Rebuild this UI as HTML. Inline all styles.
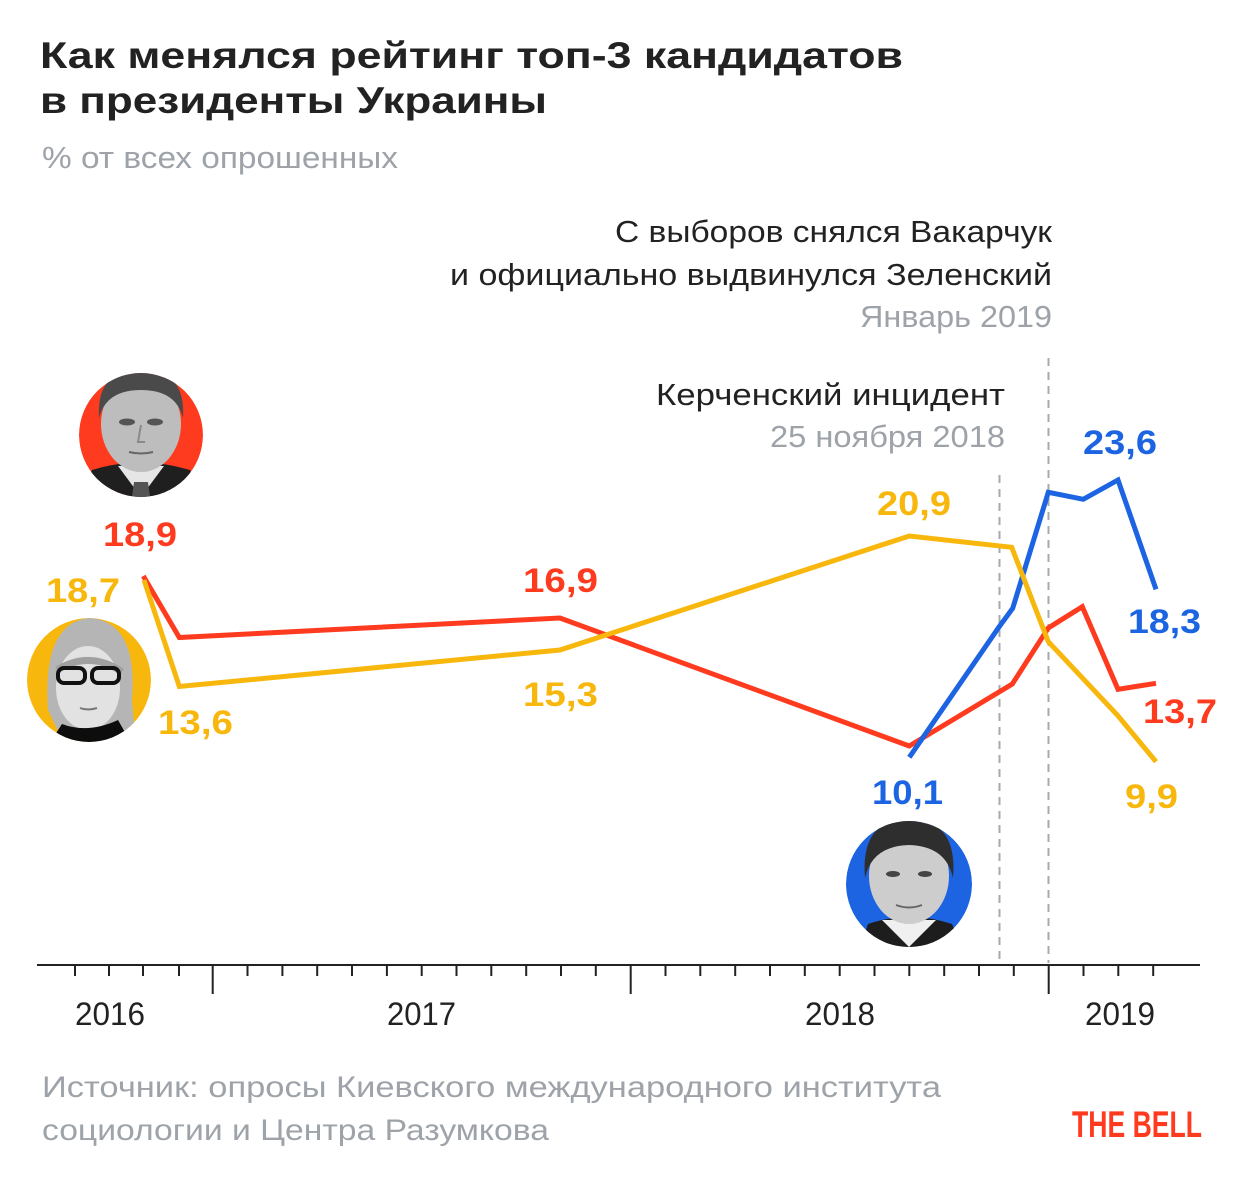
<!DOCTYPE html>
<html>
<head>
<meta charset="utf-8">
<style>
  html,body{margin:0;padding:0;background:#fff;}
  svg{display:block;}
  text{font-family:"Liberation Sans","DejaVu Sans",sans-serif;}
</style>
</head>
<body>
<svg width="1240" height="1180" viewBox="0 0 1240 1180" xmlns="http://www.w3.org/2000/svg">
  <rect width="1240" height="1180" fill="#fff"/>
  <defs>
    <clipPath id="cp1"><circle cx="141" cy="435" r="62"/></clipPath>
    <clipPath id="cp2"><circle cx="89" cy="680" r="62"/></clipPath>
    <clipPath id="cp3"><circle cx="909" cy="884" r="63"/></clipPath>
  </defs>

  <!-- Title -->
  <text x="40" y="68" font-size="37" font-weight="bold" fill="#222" textLength="863" lengthAdjust="spacingAndGlyphs">Как менялся рейтинг топ-3 кандидатов</text>
  <text x="40" y="113" font-size="37" font-weight="bold" fill="#222" textLength="507" lengthAdjust="spacingAndGlyphs">в президенты Украины</text>
  <text x="42" y="168" font-size="31" fill="#9ea3a9" textLength="356" lengthAdjust="spacingAndGlyphs">% от всех опрошенных</text>

  <!-- Annotations -->
  <text x="1052" y="242" font-size="31" fill="#222" text-anchor="end" textLength="437" lengthAdjust="spacingAndGlyphs">С выборов снялся Вакарчук</text>
  <text x="1052" y="285" font-size="31" fill="#222" text-anchor="end" textLength="602" lengthAdjust="spacingAndGlyphs">и официально выдвинулся Зеленский</text>
  <text x="1052" y="327" font-size="31" fill="#9ea3a9" text-anchor="end" textLength="192" lengthAdjust="spacingAndGlyphs">Январь 2019</text>
  <text x="1005" y="405" font-size="31" fill="#222" text-anchor="end" textLength="349" lengthAdjust="spacingAndGlyphs">Керченский инцидент</text>
  <text x="1005" y="447" font-size="31" fill="#9ea3a9" text-anchor="end" textLength="235" lengthAdjust="spacingAndGlyphs">25 ноября 2018</text>

  <!-- Dashed lines -->
  <line x1="999.5" y1="475" x2="999.5" y2="963" stroke="#a6aaaf" stroke-width="2" stroke-dasharray="8 6"/>
  <line x1="1048.5" y1="358" x2="1048.5" y2="963" stroke="#a6aaaf" stroke-width="2" stroke-dasharray="8 6"/>

  <!-- Axis -->
  <line x1="37" y1="965" x2="1200" y2="965" stroke="#222" stroke-width="2"/>
  <g stroke="#222" stroke-width="2">
    <line x1="75" y1="965" x2="75" y2="976"/>
    <line x1="109" y1="965" x2="109" y2="976"/>
    <line x1="143" y1="965" x2="143" y2="976"/>
    <line x1="179" y1="965" x2="179" y2="976"/>
    <line x1="212.7" y1="965" x2="212.7" y2="994"/>
    <line x1="247.5" y1="965" x2="247.5" y2="976"/>
    <line x1="282.4" y1="965" x2="282.4" y2="976"/>
    <line x1="317.2" y1="965" x2="317.2" y2="976"/>
    <line x1="352.0" y1="965" x2="352.0" y2="976"/>
    <line x1="386.9" y1="965" x2="386.9" y2="976"/>
    <line x1="421.7" y1="965" x2="421.7" y2="976"/>
    <line x1="456.5" y1="965" x2="456.5" y2="976"/>
    <line x1="491.3" y1="965" x2="491.3" y2="976"/>
    <line x1="526.2" y1="965" x2="526.2" y2="976"/>
    <line x1="561.0" y1="965" x2="561.0" y2="976"/>
    <line x1="595.8" y1="965" x2="595.8" y2="976"/>
    <line x1="630.7" y1="965" x2="630.7" y2="994"/>
    <line x1="665.5" y1="965" x2="665.5" y2="976"/>
    <line x1="700.3" y1="965" x2="700.3" y2="976"/>
    <line x1="735.2" y1="965" x2="735.2" y2="976"/>
    <line x1="770.0" y1="965" x2="770.0" y2="976"/>
    <line x1="804.8" y1="965" x2="804.8" y2="976"/>
    <line x1="839.7" y1="965" x2="839.7" y2="976"/>
    <line x1="874.5" y1="965" x2="874.5" y2="976"/>
    <line x1="909.3" y1="965" x2="909.3" y2="976"/>
    <line x1="944.2" y1="965" x2="944.2" y2="976"/>
    <line x1="979.0" y1="965" x2="979.0" y2="976"/>
    <line x1="1013.8" y1="965" x2="1013.8" y2="976"/>
    <line x1="1048.7" y1="965" x2="1048.7" y2="994"/>
    <line x1="1083.5" y1="965" x2="1083.5" y2="976"/>
    <line x1="1118.3" y1="965" x2="1118.3" y2="976"/>
    <line x1="1153.2" y1="965" x2="1153.2" y2="976"/>
  </g>
  <text x="75" y="1025" font-size="32" fill="#222" textLength="70" lengthAdjust="spacingAndGlyphs">2016</text>
  <text x="387" y="1025" font-size="32" fill="#222" textLength="69" lengthAdjust="spacingAndGlyphs">2017</text>
  <text x="805" y="1025" font-size="32" fill="#222" textLength="70" lengthAdjust="spacingAndGlyphs">2018</text>
  <text x="1085" y="1025" font-size="32" fill="#222" textLength="70" lengthAdjust="spacingAndGlyphs">2019</text>

  <!-- Series -->
  <polyline fill="none" stroke="#ff3b1f" stroke-width="5" stroke-linejoin="miter"
    points="143.3,576 179.3,637.5 560,618 909.3,746 1012.3,684 1048.3,628 1082.3,606.7 1118,689.3 1156,683.3"/>
  <polyline fill="none" stroke="#1c64e2" stroke-width="5" stroke-linejoin="miter"
    points="909.3,757.3 999,627 1012.7,608.3 1048.3,492.3 1083.3,499.3 1118,480 1156,589.3"/>
  <polyline fill="none" stroke="#f8b70c" stroke-width="5" stroke-linejoin="miter"
    points="144,580 179.3,686.5 560,650 909.3,536 1011.7,547.3 1048.3,641.7 1117.3,715 1156,761.7"/>

  <!-- Value labels -->
  <g font-size="34" font-weight="bold">
    <text x="103" y="546" fill="#ff3b1f" textLength="74" lengthAdjust="spacingAndGlyphs">18,9</text>
    <text x="46" y="602" fill="#f8b70c" textLength="74" lengthAdjust="spacingAndGlyphs">18,7</text>
    <text x="158" y="734" fill="#f8b70c" textLength="75" lengthAdjust="spacingAndGlyphs">13,6</text>
    <text x="523" y="592" fill="#ff3b1f" textLength="75" lengthAdjust="spacingAndGlyphs">16,9</text>
    <text x="523" y="706" fill="#f8b70c" textLength="75" lengthAdjust="spacingAndGlyphs">15,3</text>
    <text x="877" y="515" fill="#f8b70c" textLength="74" lengthAdjust="spacingAndGlyphs">20,9</text>
    <text x="872" y="804" fill="#1c64e2" textLength="71" lengthAdjust="spacingAndGlyphs">10,1</text>
    <text x="1083" y="454" fill="#1c64e2" textLength="74" lengthAdjust="spacingAndGlyphs">23,6</text>
    <text x="1128" y="633" fill="#1c64e2" textLength="73" lengthAdjust="spacingAndGlyphs">18,3</text>
    <text x="1143" y="723" fill="#ff3b1f" textLength="74" lengthAdjust="spacingAndGlyphs">13,7</text>
    <text x="1125" y="808" fill="#f8b70c" textLength="53" lengthAdjust="spacingAndGlyphs">9,9</text>
  </g>

  <!-- Portrait 1: Poroshenko (red) -->
  <g clip-path="url(#cp1)">
    <circle cx="141" cy="435" r="62" fill="#ff3b1f"/>
    <path d="M78,500 L92,470 Q140,455 190,470 L206,500 Z" fill="#1f1f1f"/>
    <path d="M118,466 L141,497 L164,466 Z" fill="#e6e6e6"/>
    <path d="M134,482 L148,482 L150,497 L132,497 Z" fill="#555"/>
    <ellipse cx="141" cy="424" rx="40" ry="48" fill="#bdbdbd"/>
    <path d="M99,418 Q96,370 141,368 Q186,370 183,418 Q176,390 141,390 Q106,390 99,418 Z" fill="#4a4a4a"/>
    <ellipse cx="127" cy="422" rx="8" ry="3.5" fill="#555"/>
    <ellipse cx="155" cy="422" rx="8" ry="3.5" fill="#555"/>
    <path d="M141,425 L138,442 L145,442" stroke="#8a8a8a" stroke-width="2" fill="none"/>
    <path d="M129,452 Q141,455 153,452" stroke="#666" stroke-width="2" fill="none"/>
  </g>

  <!-- Portrait 2: Tymoshenko (yellow) -->
  <g clip-path="url(#cp2)">
    <circle cx="89" cy="680" r="62" fill="#f8b70c"/>
    <path d="M48,710 Q42,622 90,618 Q138,622 132,700 L135,735 L110,740 L60,735 Z" fill="#b5b5b5"/>
    <ellipse cx="88" cy="688" rx="32" ry="42" fill="#e2e2e2"/>
    <path d="M57,670 Q90,650 122,672" stroke="#a0a0a0" stroke-width="7" fill="none"/>
    <rect x="58" y="668" width="27" height="15" rx="6" fill="none" stroke="#111" stroke-width="4"/>
    <rect x="92" y="668" width="27" height="15" rx="6" fill="none" stroke="#111" stroke-width="4"/>
    <path d="M80,708 Q88,711 97,708" stroke="#777" stroke-width="2" fill="none"/>
    <path d="M45,750 L62,724 Q88,734 118,720 L135,750 Z" fill="#0d0d0d"/>
  </g>

  <!-- Portrait 3: Zelensky (blue) -->
  <g clip-path="url(#cp3)">
    <circle cx="909" cy="884" r="63" fill="#1c64e2"/>
    <path d="M858,952 L868,924 Q909,910 952,924 L964,952 Z" fill="#1d1d1d"/>
    <path d="M882,920 L909,947 L936,920 Z" fill="#f0f0f0"/>
    <ellipse cx="909" cy="876" rx="40" ry="48" fill="#cdcdcd"/>
    <path d="M865,878 Q860,820 909,818 Q958,820 953,878 Q946,846 909,845 Q872,846 865,878 Z" fill="#2e2e2e"/>
    <ellipse cx="893" cy="874" rx="7" ry="3" fill="#444"/>
    <ellipse cx="925" cy="874" rx="7" ry="3" fill="#444"/>
    <path d="M896,905 Q909,910 922,905" stroke="#666" stroke-width="2" fill="none"/>
  </g>

  <!-- Source -->
  <text x="42" y="1097" font-size="30" fill="#9ea3a9" textLength="899" lengthAdjust="spacingAndGlyphs">Источник: опросы Киевского международного института</text>
  <text x="42" y="1140" font-size="30" fill="#9ea3a9" textLength="507" lengthAdjust="spacingAndGlyphs">социологии и Центра Разумкова</text>

  <!-- Logo -->
  <text x="1072" y="1137" font-size="37" font-weight="bold" fill="#ff3b1f" textLength="130" lengthAdjust="spacingAndGlyphs" style="font-family:'Liberation Sans Narrow','Liberation Sans',sans-serif;">THE BELL</text>
</svg>
</body>
</html>
